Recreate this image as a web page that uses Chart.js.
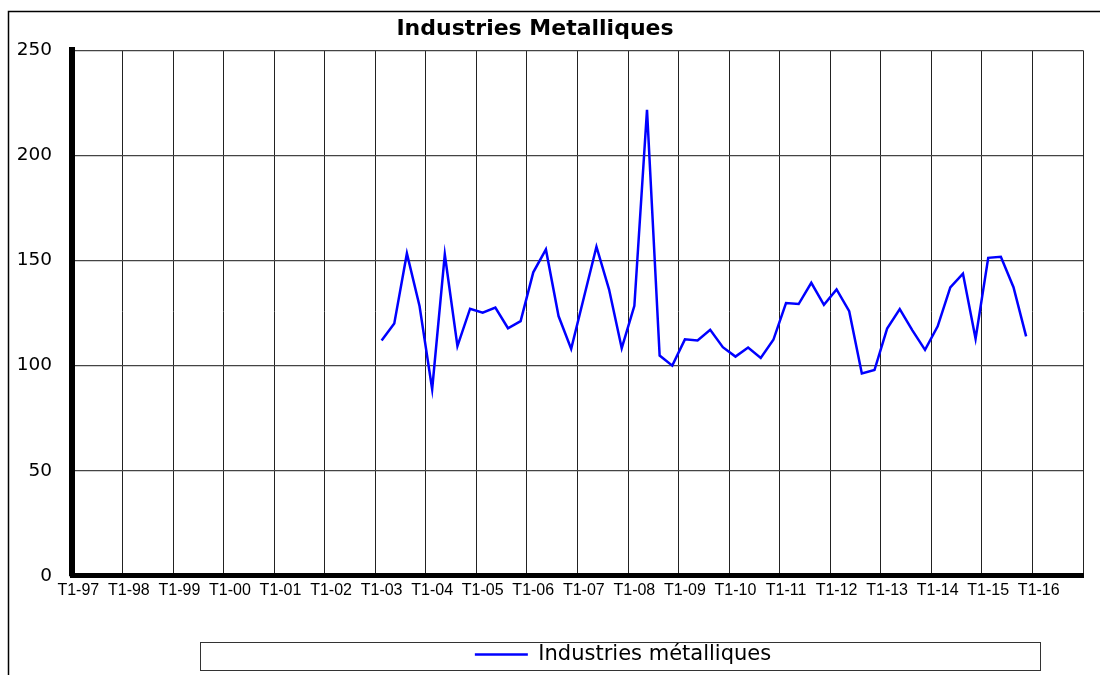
<!DOCTYPE html>
<html>
<head>
<meta charset="utf-8">
<script src="https://cdn.jsdelivr.net/npm/chart.js@4/dist/chart.umd.min.js"></script>
<style>
  body { margin: 0; background: #fff; }
  canvas { display: block; }
</style>
</head>
<body>
<canvas id="chart" width="1100" height="675"></canvas>
<script>
// quarterly axis T1-97 .. T4-16
const years = ["97", "98", "99", "00", "01", "02", "03", "04", "05", "06",
  "07", "08", "09", "10", "11", "12", "13", "14", "15", "16"];
const quarters = ["T1", "T2", "T3", "T4"];
const yTicks = [0, 50, 100, 150, 200, 250];

// series starts at T1-03
const firstLabel = "T1-03";
const seriesName = "Industries métalliques";
const values = [
  112.0, 120.0, 153.4, 128.4, 88.8, 152.9, 109.3, 127.1, 125.2, 127.6,
  117.8, 121.2, 144.4, 155.3, 123.6, 108.0, 132.3, 156.6, 136.2, 108.3,
  128.5, 221.7, 104.8, 100.0, 112.5, 112.0, 117.1, 108.8, 104.3, 108.6,
  103.7, 112.3, 129.8, 129.3, 139.4, 128.9, 136.3, 125.9, 96.3, 97.9,
  117.6, 126.9, 116.8, 107.5, 118.7, 137.2, 143.8, 112.8, 151.3, 151.8,
  137.3, 113.9
];

const labels = [];
years.forEach(y => quarters.forEach(q => labels.push(q + "-" + y)));

const start = labels.indexOf(firstLabel);
const data = labels.map((l, i) => {
  const k = i - start;
  return k >= 0 && k < values.length ? values[k] : null;
});

const frame = {
  id: "frame",
  beforeDraw(chart) {
    const ctx = chart.ctx;
    ctx.save();
    ctx.fillStyle = "#fff";
    ctx.fillRect(0, 0, chart.width, chart.height);
    ctx.strokeStyle = "#000";
    ctx.lineWidth = 1.5;
    ctx.beginPath();
    ctx.moveTo(8.5, chart.height);
    ctx.lineTo(8.5, 11.5);
    ctx.lineTo(chart.width, 11.5);
    ctx.stroke();
    ctx.restore();
  },
  afterLayout(chart) {
    // legend and title sit off-centre in the original
    chart.legend.left += 73;
    chart.legend.right += 73;
    chart.titleBlock.left -= 15;
    chart.titleBlock.right -= 15;
  },
  afterDraw(chart) {
    const hb = chart.legend.legendHitBoxes[0];
    if (!hb) return;
    const cx = hb.left + hb.width / 2;
    const cy = hb.top + hb.height / 2;
    const ctx = chart.ctx;
    ctx.save();
    ctx.strokeStyle = "#333";
    ctx.lineWidth = 1;
    ctx.strokeRect(Math.round(cx - 423) + 0.5, Math.round(cy - 13) + 0.5, 840, 28);
    ctx.restore();
  }
};

new Chart(document.getElementById("chart"), {
  type: "line",
  data: {
    labels: labels,
    datasets: [{
      label: seriesName,
      data: data,
      borderColor: "#0000ff",
      backgroundColor: "#0000ff",
      borderWidth: 2.5,
      pointRadius: 0,
      tension: 0,
      fill: false
    }]
  },
  options: {
    responsive: false,
    animation: false,
    layout: { padding: { left: 17, right: 17, top: 0, bottom: 0 } },
    plugins: {
      title: {
        display: true,
        text: "Industries Metalliques",
        color: "#000",
        font: { family: "'DejaVu Sans'", size: 22, weight: "bold" },
        padding: { top: 16, bottom: 8 }
      },
      legend: {
        position: "bottom",
        labels: {
          color: "#000",
          font: { family: "'DejaVu Sans'", size: 21 },
          usePointStyle: true,
          pointStyle: "line",
          pointStyleWidth: 53,
          padding: 39
        }
      },
      tooltip: { enabled: false }
    },
    scales: {
      x: {
        offset: true,
        border: { display: true, color: "#000", width: 5 },
        grid: {
          offset: true,
          drawTicks: false,
          lineWidth: 1,
          color: c => (c.index === undefined || c.index % 4 === 0) ? "#222" : "rgba(0,0,0,0)"
        },
        ticks: {
          autoSkip: false,
          maxRotation: 0,
          padding: 5,
          color: "#000",
          font: { family: "'Liberation Sans', Arial", size: 16 },
          callback: function (v, i) {
            return i % 4 === 0 ? this.getLabelForValue(v) : "";
          }
        },
        afterFit: axis => { axis.paddingLeft = 0; axis.paddingRight = 0; }
      },
      y: {
        min: 0,
        max: 250,
        afterBuildTicks: axis => { axis.ticks = yTicks.map(v => ({ value: v })); },
        afterFit: axis => { axis.width = 55; },
        border: { display: true, color: "#000", width: 6 },
        grid: { drawTicks: false, color: "#444", lineWidth: 1.2 },
        ticks: {
          padding: 20,
          color: "#000",
          font: { family: "'DejaVu Sans'", size: 18.5 }
        }
      }
    }
  },
  plugins: [frame]
});
</script>
</body>
</html>
